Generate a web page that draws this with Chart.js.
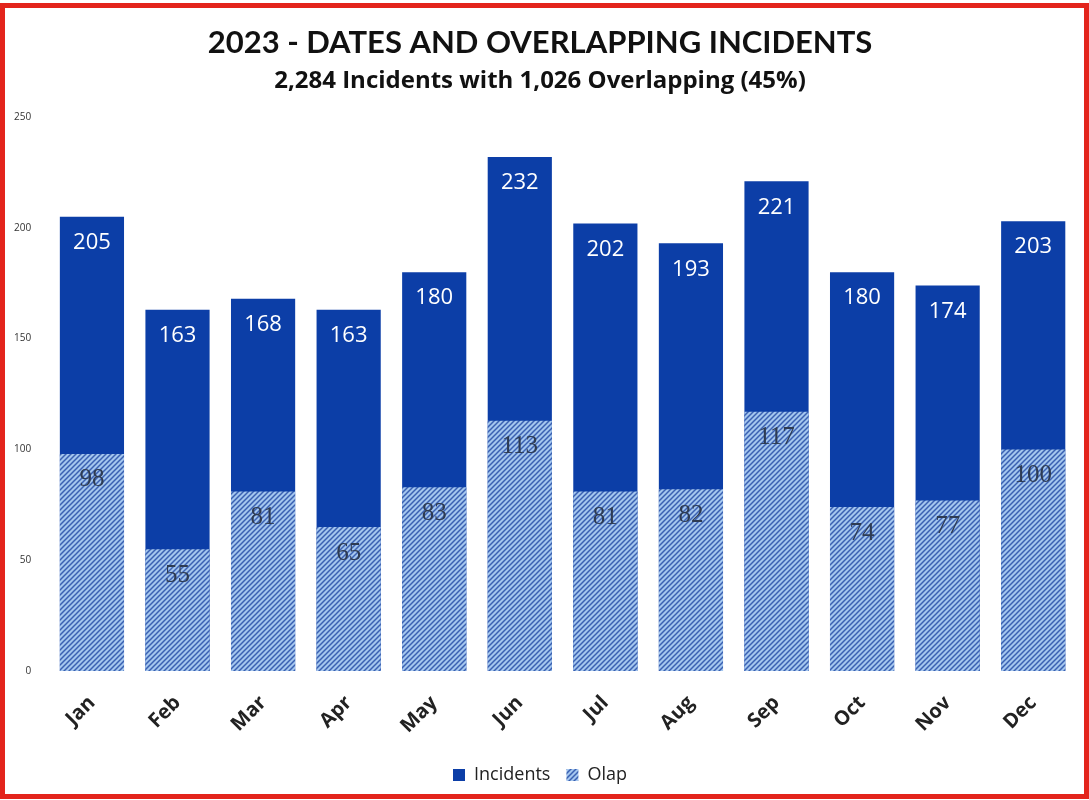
<!DOCTYPE html>
<html>
<head>
<meta charset="utf-8">
<script src="https://cdn.jsdelivr.net/npm/chart.js@4.4.0/dist/chart.umd.min.js"></script>
<style>
  html, body { margin: 0; padding: 0; background: #fff; }
  .frame { position: relative; width: 1089px; height: 800px; }
  .frame canvas { position: absolute; left: 0; top: 0; }
  .border { position: absolute; left: 0; top: 3px; width: 1079px; height: 786px; border: 5px solid #e3241c; pointer-events: none; }
</style>
</head>
<body>
<div class="frame">
  <canvas id="chart" width="1089" height="800"></canvas>
  <div class="border"></div>
</div>
<script>
// data
var months = ['Jan', 'Feb', 'Mar', 'Apr', 'May', 'Jun', 'Jul', 'Aug', 'Sep', 'Oct', 'Nov', 'Dec'];
var incidents = [205, 163, 168, 163, 180, 232, 202, 193, 221, 180, 174, 203];
var olap = [98, 55, 81, 65, 83, 113, 81, 82, 117, 74, 77, 100];
var yTicks = [0, 50, 100, 150, 200, 250];

function hatch() {
    var c = document.createElement('canvas');
    c.width = 5; c.height = 5;
    var g = c.getContext('2d');
    g.fillStyle = '#a4c6ee';
    g.fillRect(0, 0, 5, 5);
    g.strokeStyle = '#3a60b2';
    g.lineWidth = 1.5;
    g.beginPath();
    g.moveTo(0, 5); g.lineTo(5, 0);
    g.moveTo(-1, 1); g.lineTo(1, -1);
    g.moveTo(4, 6); g.lineTo(6, 4);
    g.stroke();
    return g.createPattern(c, 'repeat');
}

var ctx = document.getElementById('chart').getContext('2d');
var olapFill = hatch();

// value labels at the top of each bar
var barLabels = {
    id: 'barLabels',
    afterDatasetsDraw: function(chart) {
        var c = chart.ctx;
        c.save();
        c.textAlign = 'center';
        c.textBaseline = 'middle';
        chart.data.datasets.forEach(function(ds, i) {
            var meta = chart.getDatasetMeta(i);
            meta.data.forEach(function(bar, j) {
                if (i === 0) {
                    c.fillStyle = '#ffffff';
                    c.font = '22px "Open Sans"';
                } else {
                    c.fillStyle = '#2e3b52';
                    c.font = '25px "Liberation Serif"';
                }
                c.fillText(ds.data[j], bar.x, bar.y + 26);
            });
        });
        c.restore();
    }
};

var chart = new Chart(ctx, {
    type: 'bar',
    data: {
        labels: months,
        datasets: [{
            label: 'Incidents',
            data: incidents,
            backgroundColor: '#0c3ea7',
            grouped: false,
            order: 1
        }, {
            label: 'Olap',
            data: olap,
            backgroundColor: olapFill,
            grouped: false,
            order: 0
        }]
    },
    options: {
        responsive: false,
        animation: false,
        layout: { padding: { left: 4, right: 13, top: 20, bottom: 6 } },
        datasets: { bar: { categoryPercentage: 0.75, barPercentage: 1 } },
        scales: {
            x: {
                grid: { display: false },
                border: { display: false },
                ticks: {
                    color: '#222',
                    font: { family: 'Open Sans', size: 20, weight: 'bold' },
                    minRotation: 45,
                    maxRotation: 45,
                    padding: 12
                }
            },
            y: {
                min: 0,
                max: 250,
                afterBuildTicks: function(axis) {
                    axis.ticks = yTicks.map(function(v) { return { value: v }; });
                },
                grid: { display: false },
                border: { display: false },
                ticks: {
                    color: '#333',
                    font: { family: 'Open Sans', size: 10 },
                    padding: 10
                }
            }
        },
        plugins: {
            title: {
                display: true,
                text: '2023 - DATES AND OVERLAPPING INCIDENTS',
                color: '#111',
                font: { family: 'Lato', size: 31, weight: 'bold' },
                padding: { top: 4, bottom: 6 }
            },
            subtitle: {
                display: true,
                text: '2,284 Incidents with 1,026 Overlapping (45%)',
                color: '#111',
                font: { family: 'Open Sans', size: 24, weight: 'bold' },
                padding: { top: 0, bottom: 21 }
            },
            legend: {
                position: 'bottom',
                labels: {
                    color: '#222',
                    font: { family: 'Open Sans', size: 18 },
                    boxWidth: 12,
                    boxHeight: 12,
                    padding: 16,
                    sort: function(a, b) { return a.datasetIndex - b.datasetIndex; }
                }
            },
            tooltip: { enabled: false }
        }
    },
    plugins: [barLabels]
});
</script>
</body>
</html>
